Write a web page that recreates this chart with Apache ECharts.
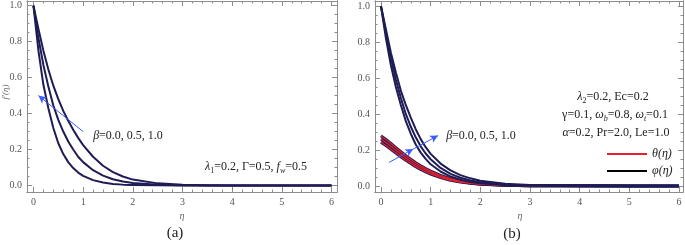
<!DOCTYPE html>
<html>
<head>
<meta charset="utf-8">
<script src="https://cdn.jsdelivr.net/npm/echarts@6/dist/echarts.min.js"></script>
<style>
  html, body { margin: 0; padding: 0; background: #fff; }
  #chart { width: 685px; height: 245px; }
</style>
</head>
<body>
<div id="chart"></div>
<script>
// eta grid shared by all curves
const eta = [0, 0.1, 0.2, 0.3, 0.4, 0.5, 0.6, 0.7, 0.8, 0.9, 1.0, 1.2, 1.4, 1.6, 1.8, 2.0, 2.5, 3.0, 3.5, 4.0, 5.0, 6.0];

// panel (a): f'(eta), beta = 0.0, 0.5, 1.0
const fpBeta0 = [1, 0.87, 0.75, 0.645, 0.555, 0.48, 0.415, 0.36, 0.31, 0.265, 0.225, 0.16, 0.11, 0.075, 0.05, 0.033, 0.012, 0.004, 0.0015, 0.0005, 0, 0];
const fpBeta05 = [1, 0.82, 0.67, 0.55, 0.445, 0.365, 0.30, 0.245, 0.20, 0.16, 0.13, 0.085, 0.055, 0.035, 0.022, 0.014, 0.004, 0.001, 0.0003, 0, 0, 0];
const fpBeta1 = [1, 0.75, 0.56, 0.43, 0.32, 0.235, 0.175, 0.13, 0.097, 0.072, 0.054, 0.03, 0.017, 0.009, 0.005, 0.003, 0.001, 0, 0, 0, 0, 0];

// panel (b): phi(eta) and theta(eta)
const phi1 = [1.0, 0.82, 0.67, 0.55, 0.45, 0.36, 0.29, 0.23, 0.185, 0.15, 0.12, 0.08, 0.052, 0.034, 0.022, 0.015, 0.005, 0.002, 0.0007, 0.0002, 0, 0];
const phi2 = [1.0, 0.85, 0.71, 0.59, 0.49, 0.40, 0.33, 0.27, 0.22, 0.18, 0.148, 0.10, 0.067, 0.045, 0.03, 0.02, 0.007, 0.003, 0.001, 0.0004, 0, 0];
const phi3 = [1.0, 0.87, 0.74, 0.63, 0.53, 0.45, 0.38, 0.315, 0.26, 0.215, 0.178, 0.124, 0.086, 0.06, 0.042, 0.029, 0.012, 0.005, 0.002, 0.0008, 0.0001, 0];
const theta1 = [0.278, 0.258, 0.236, 0.213, 0.19, 0.168, 0.148, 0.129, 0.112, 0.096, 0.082, 0.058, 0.04, 0.027, 0.018, 0.012, 0.004, 0.0013, 0.0004, 0.0001, 0, 0];
const theta2 = [0.26, 0.241, 0.22, 0.198, 0.176, 0.155, 0.136, 0.118, 0.102, 0.087, 0.074, 0.052, 0.036, 0.024, 0.016, 0.010, 0.0035, 0.001, 0.0003, 0.0001, 0, 0];
const theta3 = [0.243, 0.224, 0.204, 0.183, 0.162, 0.142, 0.124, 0.107, 0.092, 0.078, 0.066, 0.046, 0.031, 0.021, 0.014, 0.009, 0.003, 0.001, 0.0003, 0, 0, 0];

// ticks
const xMajor = [0, 1, 2, 3, 4, 5, 6];
const yMajor = [0, 0.2, 0.4, 0.6, 0.8, 1.0];
const xMinor = [];
for (let v = 0.2; v < 6; v += 0.2) xMinor.push(+v.toFixed(2));
const yMinor = [];
for (let v = 0.05; v < 1.0; v += 0.05) yMinor.push(+v.toFixed(2));

const FRAME = '#8c8c8c'
const NAVY = '#1e1c55'
const RED = '#e8202a'
const ARROW = '#3d5cff'
const SERIF = '"Times New Roman", "Liberation Serif", serif'

const chart = echarts.init(document.getElementById('chart'))

function pts(ys) { return eta.map((x, i) => [x, ys[i]]) }

function xAxes(g, min, max) {
  return [
    { pos: 'bottom', vals: xMajor, len: 5, labels: true },
    { pos: 'bottom', vals: xMinor, len: 2.5 },
    { pos: 'top', vals: xMajor, len: 5 },
    { pos: 'top', vals: xMinor, len: 2.5 }
  ].map(a => ({
    type: 'value', gridIndex: g, position: a.pos, min: min, max: max,
    axisLine: { show: true, onZero: false, lineStyle: { color: FRAME, width: 1 } },
    axisTick: { show: true, inside: true, length: a.len, customValues: a.vals, lineStyle: { color: FRAME } },
    axisLabel: { show: !!a.labels, customValues: xMajor, margin: 5, fontFamily: SERIF, fontSize: 10, color: '#555', formatter: v => String(v) },
    splitLine: { show: false }
  }))
}

function yAxes(g, min, max) {
  return [
    { pos: 'left', vals: yMajor, len: 5, labels: true },
    { pos: 'left', vals: yMinor, len: 2.5 },
    { pos: 'right', vals: yMajor, len: 5 },
    { pos: 'right', vals: yMinor, len: 2.5 }
  ].map(a => ({
    type: 'value', gridIndex: g, position: a.pos, min: min, max: max,
    axisLine: { show: true, onZero: false, lineStyle: { color: FRAME, width: 1 } },
    axisTick: { show: true, inside: true, length: a.len, customValues: a.vals, lineStyle: { color: FRAME } },
    axisLabel: { show: !!a.labels, customValues: yMajor, margin: 5, fontFamily: SERIF, fontSize: 10, color: '#555', formatter: v => v.toFixed(1) },
    splitLine: { show: false }
  }))
}

function curve(name, ys, xi, yi, color, width, z) {
  return {
    name: name, type: 'line', xAxisIndex: xi, yAxisIndex: yi,
    data: pts(ys), showSymbol: false, smooth: false,
    color: color, lineStyle: { color: color, width: width, join: 'round' }, z: z || 2,
    silent: true, animation: false
  }
}

function arrow(segs) {
  return {
    silent: true, symbol: ['none', 'arrow'], symbolSize: [6, 8],
    label: { show: false },
    lineStyle: { color: ARROW, width: 1, type: 'solid' },
    data: segs.map(s => [{ coord: s[0] }, { coord: s[1] }])
  }
}

const italic = { fontStyle: 'italic', fontFamily: SERIF, fontSize: 12, color: '#222' }
const plain = { fontFamily: SERIF, fontSize: 12, color: '#222' }
const sub = { fontFamily: SERIF, fontSize: 8, color: '#222', padding: [7, 0, 0, 0] }
const subI = Object.assign({}, sub, { fontStyle: 'italic' })
const rich = { i: italic, p: plain, s: sub, si: subI }

function txt(x, y, text, align) {
  return {
    type: 'text', x: x, y: y, silent: true,
    style: { text: text, rich: rich, align: align || 'center', verticalAlign: 'middle', fontFamily: SERIF, fontSize: 12, fill: '#222' }
  }
}

const seriesB = [
  // theta: dark edge under red line
  curve('thetaEdge', theta1, 4, 4, NAVY, 3, 2),
  curve('thetaEdge', theta2, 4, 4, NAVY, 3, 2),
  curve('thetaEdge', theta3, 4, 4, NAVY, 3, 2),
  curve('θ(η)', theta1, 4, 4, RED, 1.2, 3),
  curve('θ(η)', theta2, 4, 4, RED, 1.2, 3),
  curve('θ(η)', theta3, 4, 4, RED, 1.2, 3),
  curve('φ(η)', phi1, 4, 4, NAVY, 2, 4),
  curve('φ(η)', phi2, 4, 4, NAVY, 2, 4),
  curve('φ(η)', phi3, 4, 4, NAVY, 2, 4)
]
seriesB[6].markLine = arrow([[[0.16, 0.13], [0.65, 0.205]], [[0.65, 0.205], [1.15, 0.28]]])

const seriesA = [
  curve('a0', fpBeta0, 0, 0, NAVY, 2),
  curve('a05', fpBeta05, 0, 0, NAVY, 2),
  curve('a1', fpBeta1, 0, 0, NAVY, 2)
]
seriesA[0].markLine = arrow([[[1.0, 0.3], [0.1, 0.5]]])

chart.setOption({
  animation: false,
  backgroundColor: '#fff',
  grid: [
    { left: 27, top: 1, width: 310, height: 191, outerBoundsMode: 'none' },
    { left: 375, top: 1, width: 308, height: 191, outerBoundsMode: 'none' }
  ],
  xAxis: xAxes(0, -0.13, 6.11).concat(xAxes(1, -0.12, 6.08)),
  yAxis: yAxes(0, -0.036, 1.026).concat(yAxes(1, -0.034, 1.028)),
  legend: {
    orient: 'vertical', left: 602, top: 143, itemWidth: 40, itemHeight: 2, itemGap: 5,
    icon: 'rect', selectedMode: false,
    data: [
      { name: 'θ(η)', itemStyle: { color: RED } },
      { name: 'φ(η)', itemStyle: { color: '#000' } }
    ],
    textStyle: { fontFamily: SERIF, fontSize: 12, color: '#222', fontStyle: 'italic' }
  },
  series: seriesA.concat(seriesB),
  graphic: [
    txt(128, 136, '{i|β}{p|=0.0, 0.5, 1.0}'),
    txt(256, 167, '{i|λ}{s|1}{p|=0.2, Γ=0.5, }{i|f}{si|w}{p|=0.5}'),
    txt(481, 136, '{i|β}{p|=0.0, 0.5, 1.0}'),
    txt(613, 97, '{i|λ}{s|2}{p|=0.2, Ec=0.2}'),
    txt(615, 115, '{p|γ=0.1, }{i|ω}{si|b}{p|=0.8, }{i|ω}{si|t}{p|=0.1}'),
    txt(616, 133, '{i|α}{p|=0.2, Pr=2.0, Le=1.0}'),
    {
      type: 'text', x: 6, y: 92, rotation: Math.PI / 2, silent: true,
      style: { text: 'f′(η)', align: 'center', verticalAlign: 'middle', fontFamily: SERIF, fontStyle: 'italic', fontSize: 9, fill: '#666' }
    },
    {
      type: 'text', x: 182, y: 216, silent: true,
      style: { text: 'η', align: 'center', verticalAlign: 'middle', fontFamily: SERIF, fontStyle: 'italic', fontSize: 10, fill: '#666' }
    },
    {
      type: 'text', x: 520, y: 216, silent: true,
      style: { text: 'η', align: 'center', verticalAlign: 'middle', fontFamily: SERIF, fontStyle: 'italic', fontSize: 10, fill: '#666' }
    },
    {
      type: 'text', x: 175, y: 233, silent: true,
      style: { text: '(a)', align: 'center', verticalAlign: 'middle', fontFamily: SERIF, fontSize: 15, fill: '#222' }
    },
    {
      type: 'text', x: 512, y: 234, silent: true,
      style: { text: '(b)', align: 'center', verticalAlign: 'middle', fontFamily: SERIF, fontSize: 15, fill: '#222' }
    }
  ]
})
</script>
</body>
</html>
